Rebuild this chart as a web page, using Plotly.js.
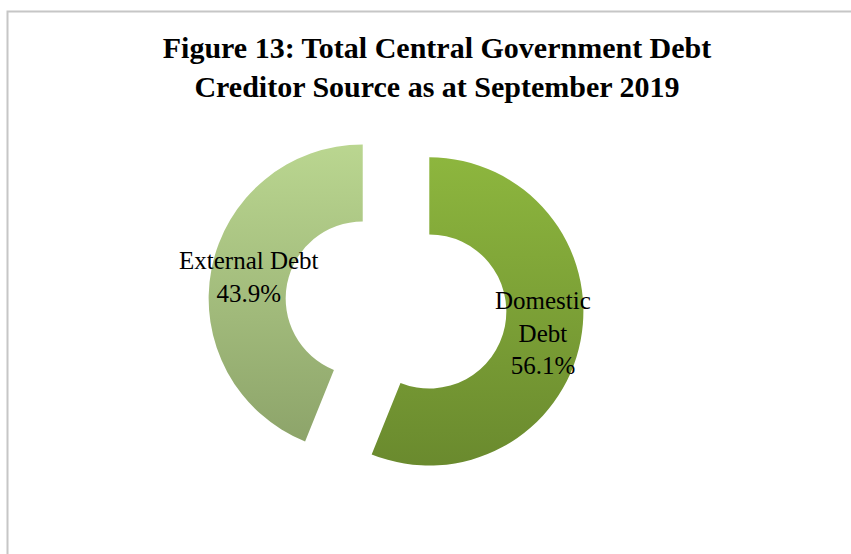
<!DOCTYPE html>
<html>
<head>
<meta charset="utf-8">
<script src="https://cdn.plot.ly/plotly-3.0.1.min.js"></script>
<style>
  html, body { margin: 0; padding: 0; background: #ffffff; }
  #chart { width: 851px; height: 554px; }
</style>
</head>
<body>
<div id="chart"></div>
<script>
// Central government debt by creditor source, September 2019 (% of total)
const sources = ['Domestic Debt', 'External Debt'];
const sliceLabels = ['Domestic<br>Debt', 'External Debt'];
const shares = [56.1, 43.9];

// Vertical gradient stops for each slice (top colour, bottom colour)
const sliceColors = [['#8db63e', '#6a8a2e'], ['#bad690', '#8da46a']];

const W = 851, H = 554;
const domX = [0.2444, 0.6863];
const domY = [0.1101, 0.7888];
const hole = 0.5;
const pull = 0.22;

// Label positions follow the slice geometry: ring middle of each pulled slice
const total = shares.reduce((a, b) => a + b, 0);
const cxPx = (domX[0] + domX[1]) / 2 * W;
const cyPx = (domY[0] + domY[1]) / 2 * H;
const rPx = Math.min((domX[1] - domX[0]) * W, (domY[1] - domY[0]) * H) / (2 + 2 * pull);
let cum = 0;
const annotations = shares.map((v, i) => {
  const mid = (cum + v / 2) / total * 2 * Math.PI; // clockwise from 12 o'clock
  cum += v;
  const d = rPx * pull + rPx * (1 + hole) / 2;
  const px = cxPx + d * Math.sin(mid);
  const py = cyPx + d * Math.cos(mid);
  return {
    xref: 'paper', yref: 'paper',
    x: px / W, y: py / H,
    xanchor: 'center', yanchor: 'middle',
    text: sliceLabels[i] + '<br>' + v.toFixed(1) + '%',
    showarrow: false,
    font: { family: 'Liberation Serif, serif', size: 25, color: '#000000' }
  };
});

const trace = {
  type: 'pie',
  labels: sources,
  values: shares,
  sort: false,
  direction: 'clockwise',
  rotation: 0,
  hole: hole,
  pull: [pull, pull],
  domain: { x: domX, y: domY },
  marker: { colors: sliceColors.map(c => c[1]), line: { width: 0 } },
  textinfo: 'none',
  hoverinfo: 'label+percent',
  showlegend: false
};

const layout = {
  width: W, height: H,
  margin: { l: 0, r: 0, t: 0, b: 0 },
  paper_bgcolor: '#ffffff',
  showlegend: false,
  title: {
    text: 'Figure 13: Total Central Government Debt<br>Creditor Source as at September 2019',
    font: { family: 'Liberation Serif, serif', size: 30, color: '#000000', weight: 'bold' },
    x: 437 / W, xanchor: 'center',
    y: 1 - 58 / H, yanchor: 'top', yref: 'container'
  },
  annotations: annotations,
  shapes: [{
    type: 'rect', xref: 'paper', yref: 'paper',
    x0: 7.5 / W, x1: 1.05, y0: -0.05, y1: 1 - 11.5 / H,
    line: { color: '#c6c6c6', width: 2 },
    fillcolor: 'rgba(0,0,0,0)', layer: 'below'
  }]
};

Plotly.newPlot('chart', [trace], layout, { staticPlot: true }).then(gd => {
  // Shade each slice with a top-to-bottom gradient
  const svg = gd.querySelector('svg.main-svg');
  const NS = 'http://www.w3.org/2000/svg';
  let defs = svg.querySelector('defs');
  if (!defs) { defs = document.createElementNS(NS, 'defs'); svg.insertBefore(defs, svg.firstChild); }
  sliceColors.forEach((c, i) => {
    const g = document.createElementNS(NS, 'linearGradient');
    g.setAttribute('id', 'sliceGrad' + i);
    g.setAttribute('x1', '0'); g.setAttribute('y1', '0');
    g.setAttribute('x2', '0'); g.setAttribute('y2', '1');
    [[0, c[0]], [1, c[1]]].forEach(([o, col]) => {
      const s = document.createElementNS(NS, 'stop');
      s.setAttribute('offset', o);
      s.setAttribute('stop-color', col);
      g.appendChild(s);
    });
    defs.appendChild(g);
  });
  gd.querySelectorAll('g.slice path.surface').forEach((p, i) => {
    p.style.fill = 'url(#sliceGrad' + i + ')';
  });
});
</script>
</body>
</html>
